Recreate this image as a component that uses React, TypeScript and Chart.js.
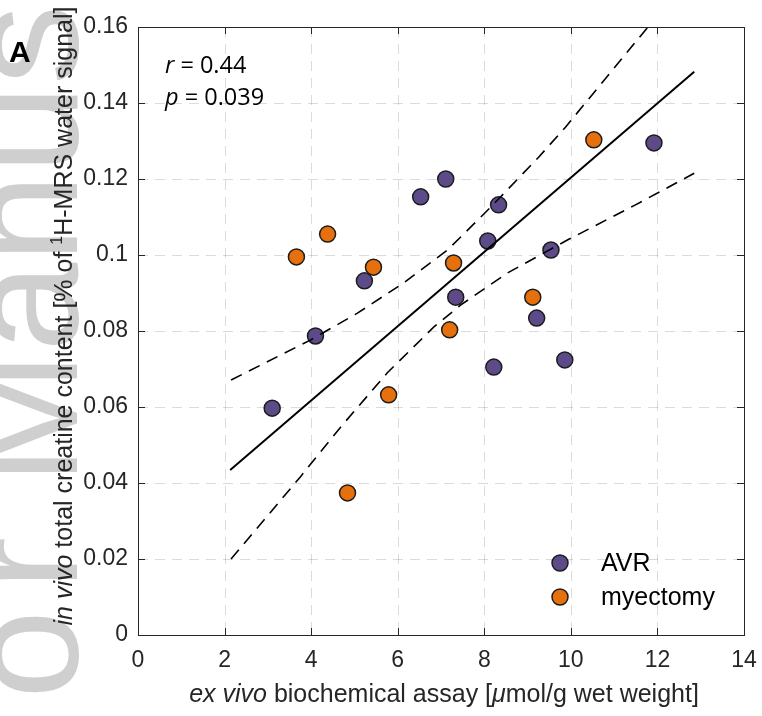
import React, { useEffect, useRef } from 'react';
import { Chart, registerables } from 'chart.js';

Chart.register(...registerables);

// ---- data ----
const avrX = [3.1, 4.1, 5.23, 6.53, 7.11, 8.33, 8.08, 7.34, 8.22, 9.54, 9.21, 9.86, 11.92];
const avrY = [0.0597, 0.0787, 0.0932, 0.1153, 0.12, 0.1132, 0.1037, 0.0889, 0.0705, 0.1013, 0.0834, 0.0724, 0.1295];
const myeX = [3.66, 4.38, 5.44, 5.79, 4.84, 7.2, 7.29, 9.12, 10.53];
const myeY = [0.0995, 0.1055, 0.0968, 0.0632, 0.0374, 0.0803, 0.0979, 0.0889, 0.1303];
const fitX = [2.13, 12.85];
const fitY = [0.0434, 0.1482];
const upperX = [2.15, 3.98, 5.07, 6.13, 7.15, 8.15, 9.26, 9.88, 11.78];
const upperY = [0.0671, 0.0776, 0.0847, 0.0926, 0.1013, 0.1126, 0.1258, 0.1337, 0.16];
const lowerX = [2.15, 3.75, 4.68, 5.76, 6.83, 7.45, 8.54, 9.93, 11.46, 12.85];
const lowerY = [0.02, 0.0416, 0.0547, 0.069, 0.081, 0.0868, 0.0953, 0.104, 0.113, 0.1215];

const X_TICKS = [0, 2, 4, 6, 8, 10, 12, 14];
const X_TICK_LABELS = ['0', '2', '4', '6', '8', '10', '12', '14'];
const Y_TICKS = [0, 0.02, 0.04, 0.06, 0.08, 0.1, 0.12, 0.14, 0.16];
const Y_TICK_LABELS = ['0', '0.02', '0.04', '0.06', '0.08', '0.1', '0.12', '0.14', '0.16'];

const SERIES_LABELS = ['AVR', 'myectomy'];
const STAT_R = '0.44';
const STAT_P = '0.039';

// ---- styles ----
const PURPLE = '#5d4a89';
const ORANGE = '#e6700c';
const EDGE = '#1c1c1c';
const TEXT = '#262626';
const FONT = '"Liberation Sans", Arial, sans-serif';

type Seg = { t: string; i?: boolean; sup?: boolean };

function segFont(s: Seg, size: number) {
  const sz = s.sup ? Math.round(size * 0.65) : size;
  return `${s.i ? 'italic ' : ''}${sz}px ${FONT}`;
}

function richWidth(ctx: CanvasRenderingContext2D, segs: Seg[], size: number) {
  let w = 0;
  for (const s of segs) {
    ctx.font = segFont(s, size);
    w += ctx.measureText(s.t).width;
  }
  return w;
}

function drawRich(ctx: CanvasRenderingContext2D, segs: Seg[], x: number, y: number, size: number) {
  let cx = x;
  for (const s of segs) {
    ctx.font = segFont(s, size);
    ctx.fillText(s.t, cx, s.sup ? y - size * 0.42 : y);
    cx += ctx.measureText(s.t).width;
  }
}

const xTitle: Seg[] = [
  { t: 'ex vivo', i: true },
  { t: ' biochemical assay [' },
  { t: 'μ', i: true },
  { t: 'mol/g wet weight]' },
];
const yTitle: Seg[] = [
  { t: 'in vivo', i: true },
  { t: ' total creatine content [% of ' },
  { t: '1', sup: true },
  { t: 'H-MRS water signal]' },
];

const decorPlugin = {
  id: 'decor',
  beforeDraw(chart: any) {
    const ctx = chart.ctx as CanvasRenderingContext2D;
    ctx.save();
    ctx.fillStyle = '#ffffff';
    ctx.fillRect(0, 0, chart.width, chart.height);
    // faint watermark (reads bottom to top)
    ctx.fillStyle = '#cfcfcf';
    ctx.font = `160px ${FONT}`;
    ctx.textBaseline = 'alphabetic';
    ctx.save();
    (ctx as any).letterSpacing = '20px';
    const autho = ctx.measureText('Autho').width;
    ctx.translate(77, 590 + autho);
    ctx.rotate(-Math.PI / 2);
    ctx.fillText('Author', 0, 0);
    ctx.restore();
    ctx.save();
    (ctx as any).letterSpacing = '0px';
    ctx.translate(77, 485);
    ctx.rotate(-Math.PI / 2);
    ctx.fillText('Manuscript', 0, 0);
    ctx.restore();
    ctx.restore();
  },
  beforeDatasetsDraw(chart: any) {
    const ctx = chart.ctx as CanvasRenderingContext2D;
    const { left, right, top, bottom } = chart.chartArea;
    const xs = chart.scales.x;
    const ys = chart.scales.y;
    ctx.save();
    ctx.strokeStyle = 'rgba(0,0,0,0.14)';
    ctx.lineWidth = 1;
    ctx.setLineDash([10, 7]);
    for (const v of X_TICKS) {
      const px = Math.round(xs.getPixelForValue(v)) + 0.5;
      if (px < left + 2 || px > right - 2) continue;
      ctx.beginPath();
      ctx.moveTo(px, top);
      ctx.lineTo(px, bottom);
      ctx.stroke();
    }
    for (const v of Y_TICKS) {
      const py = Math.round(ys.getPixelForValue(v)) + 0.5;
      if (py < top + 2 || py > bottom - 2) continue;
      ctx.beginPath();
      ctx.moveTo(left, py);
      ctx.lineTo(right, py);
      ctx.stroke();
    }
    ctx.restore();
  },
  afterDraw(chart: any) {
    const ctx = chart.ctx as CanvasRenderingContext2D;
    const { left, right, top, bottom } = chart.chartArea;
    const xs = chart.scales.x;
    const ys = chart.scales.y;
    ctx.save();
    // frame
    ctx.strokeStyle = TEXT;
    ctx.lineWidth = 1;
    ctx.setLineDash([]);
    ctx.strokeRect(Math.round(left) + 0.5, Math.round(top) + 0.5, Math.round(right - left), Math.round(bottom - top));
    // inner ticks
    const tl = 7;
    ctx.beginPath();
    for (const v of X_TICKS) {
      const px = Math.round(xs.getPixelForValue(v)) + 0.5;
      ctx.moveTo(px, bottom);
      ctx.lineTo(px, bottom - tl);
      ctx.moveTo(px, top);
      ctx.lineTo(px, top + tl);
    }
    for (const v of Y_TICKS) {
      const py = Math.round(ys.getPixelForValue(v)) + 0.5;
      ctx.moveTo(left, py);
      ctx.lineTo(left + tl, py);
      ctx.moveTo(right, py);
      ctx.lineTo(right - tl, py);
    }
    ctx.stroke();

    // legend
    const ds = chart.data.datasets;
    const lx = right - 184;
    const ly0 = bottom - 72;
    ctx.textBaseline = 'middle';
    ctx.textAlign = 'left';
    for (let k = 0; k < 2; k++) {
      const ly = ly0 + k * 34;
      ctx.beginPath();
      ctx.arc(lx, ly, 8, 0, Math.PI * 2);
      ctx.fillStyle = ds[k].backgroundColor;
      ctx.fill();
      ctx.lineWidth = 1.5;
      ctx.strokeStyle = EDGE;
      ctx.stroke();
      ctx.fillStyle = '#000000';
      ctx.font = `25px ${FONT}`;
      ctx.fillText(ds[k].label, lx + 41, ly + 1);
    }

    // stats annotation
    ctx.textBaseline = 'alphabetic';
    ctx.fillStyle = '#000000';
    const sf = '"Open Sans", "Noto Sans", sans-serif';
    const ax = left + 27;
    ctx.font = `italic 23.5px ${sf}`;
    ctx.fillText('r', ax, top + 46);
    let w = ctx.measureText('r').width;
    ctx.font = `23.5px ${sf}`;
    ctx.fillText(` = ${STAT_R}`, ax + w, top + 46);
    ctx.font = `italic 23.5px ${sf}`;
    ctx.fillText('p', ax, top + 78);
    w = ctx.measureText('p').width;
    ctx.font = `23.5px ${sf}`;
    ctx.fillText(` = ${STAT_P}`, ax + w, top + 78);

    // axis titles
    ctx.fillStyle = TEXT;
    const fs = 25;
    const xw = richWidth(ctx, xTitle, fs);
    drawRich(ctx, xTitle, (left + right) / 2 + 3 - xw / 2, 702, fs);

    const yw = richWidth(ctx, yTitle, fs);
    ctx.save();
    ctx.translate(72, (top + bottom) / 2 - 15);
    ctx.rotate(-Math.PI / 2);
    drawRich(ctx, yTitle, -yw / 2, 0, fs);
    ctx.restore();

    // panel letter
    ctx.fillStyle = '#000000';
    ctx.font = `bold 30px ${FONT}`;
    ctx.fillText('A', 9, 62);
    ctx.restore();
  },
};

function toPts(xs: number[], ys: number[]) {
  return xs.map((x, i) => ({ x, y: ys[i] }));
}

export default function App() {
  const ref = useRef<HTMLCanvasElement | null>(null);

  useEffect(() => {
    if (!ref.current) return;
    const lineBase = {
      type: 'line' as const,
      showLine: true,
      pointRadius: 0,
      borderColor: '#000000',
      fill: false,
      tension: 0,
      order: 0,
    };
    const chart = new Chart(ref.current, {
      type: 'scatter',
      data: {
        datasets: [
          {
            label: SERIES_LABELS[0],
            data: toPts(avrX, avrY),
            backgroundColor: PURPLE,
            borderColor: EDGE,
            borderWidth: 1.5,
            pointRadius: 8,
            order: 1,
          },
          {
            label: SERIES_LABELS[1],
            data: toPts(myeX, myeY),
            backgroundColor: ORANGE,
            borderColor: EDGE,
            borderWidth: 1.5,
            pointRadius: 8,
            order: 2,
          },
          { ...lineBase, label: 'fit', data: toPts(fitX, fitY), borderWidth: 2 } as any,
          { ...lineBase, label: 'upper', data: toPts(upperX, upperY), borderWidth: 1.6, borderDash: [12, 8] } as any,
          { ...lineBase, label: 'lower', data: toPts(lowerX, lowerY), borderWidth: 1.6, borderDash: [12, 8] } as any,
        ],
      },
      options: {
        responsive: false,
        animation: false,
        devicePixelRatio: 1,
        layout: { padding: { top: 27, right: 18, left: 0, bottom: 0 } },
        plugins: {
          legend: { display: false },
          tooltip: { enabled: false },
        },
        scales: {
          x: {
            type: 'linear',
            min: 0,
            max: 14,
            afterBuildTicks: (s: any) => {
              s.ticks = X_TICKS.map((v) => ({ value: v }));
            },
            afterFit: (s: any) => {
              s.height = 81;
              s.paddingLeft = 0;
              s.paddingRight = 0;
            },
            grid: { display: false, drawTicks: false },
            border: { display: false },
            ticks: {
              padding: 12,
              color: TEXT,
              autoSkip: false,
              maxRotation: 0,
              font: { family: FONT, size: 23 },
              callback: (_v: any, i: number) => X_TICK_LABELS[i],
            },
          },
          y: {
            type: 'linear',
            min: 0,
            max: 0.16,
            afterBuildTicks: (s: any) => {
              s.ticks = Y_TICKS.map((v) => ({ value: v }));
            },
            afterFit: (s: any) => {
              s.width = 138;
              s.paddingTop = 0;
              s.paddingBottom = 0;
            },
            grid: { display: false, drawTicks: false },
            border: { display: false },
            ticks: {
              padding: 10,
              color: TEXT,
              autoSkip: false,
              font: { family: FONT, size: 23 },
              callback: (_v: any, i: number) => Y_TICK_LABELS[i],
            },
          },
        },
      },
      plugins: [decorPlugin],
    });
    return () => chart.destroy();
  }, []);

  return (
    <div style={{ position: 'fixed', left: 0, top: 0, width: 762, height: 716, background: '#fff' }}>
      <canvas ref={ref} width={762} height={716} style={{ display: 'block', width: 762, height: 716 }} />
    </div>
  );
}
